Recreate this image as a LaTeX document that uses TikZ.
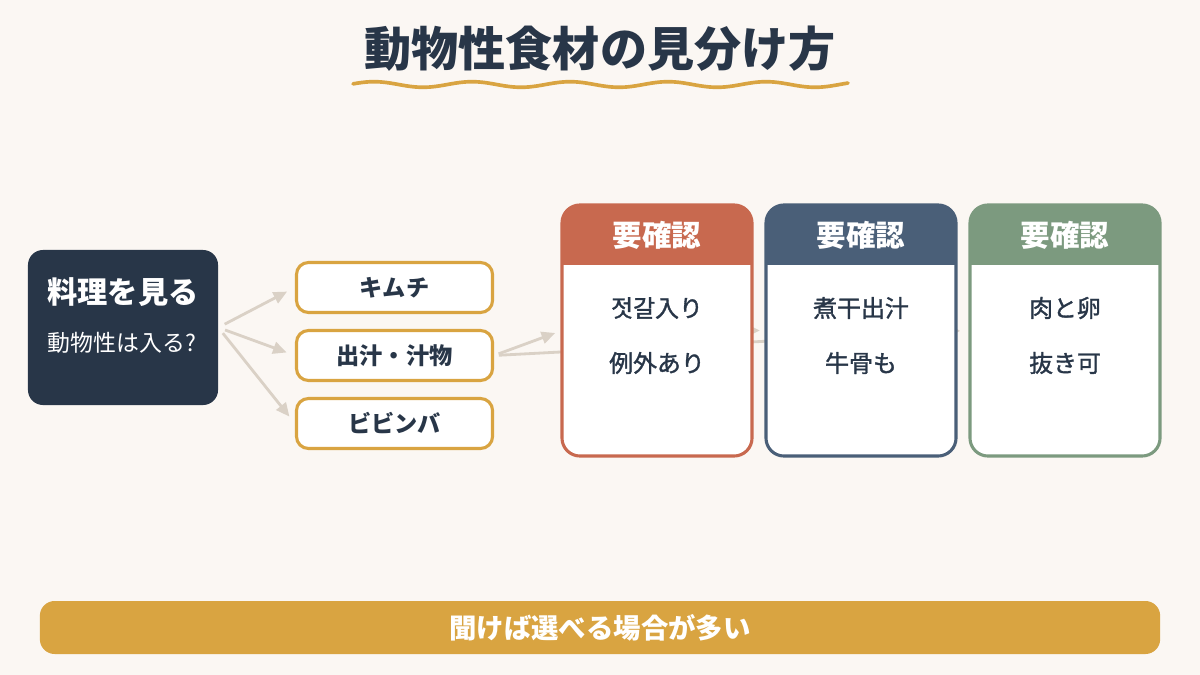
\documentclass[tikz,border=0pt]{standalone}
\usepackage{fontspec}
\setmainfont{Noto Sans CJK JP}
\newfontfamily\medfont[FakeBold=1.4]{Noto Sans CJK JP}
\usetikzlibrary{arrows.meta}

\definecolor{cream}{HTML}{FBF7F3}
\definecolor{navy}{HTML}{283648}
\definecolor{gold}{HTML}{D9A441}
\definecolor{brick}{HTML}{C8694F}
\definecolor{slate}{HTML}{4A5F78}
\definecolor{sage}{HTML}{7C9A7F}
\definecolor{arrowgray}{HTML}{DAD1C6}

\tikzset{
	arr/.style={-{Triangle[length=0.34cm,width=0.3cm]},draw=arrowgray,line width=2pt},
	pill/.style={draw=gold,fill=white,line width=2.2pt,rounded corners=0.3cm,minimum width=4.9cm,minimum height=1.25cm,text=navy,font=\fontsize{16.5}{19}\selectfont\bfseries},
	cardbox/.style={minimum width=4.75cm,minimum height=6.275cm,inner sep=0pt,outer sep=0pt},
	headtext/.style={text=white,font=\fontsize{21}{24}\selectfont\bfseries},
	bodytext/.style={text=navy,font=\fontsize{17}{20}\selectfont\medfont}
}

\begin{document}
\begin{tikzpicture}[x=0.025cm,y=-0.025cm]
		\fill[cream] (0,0) rectangle (1200,675);
		
		% title
		\node[text=navy,font=\fontsize{33.5}{38}\selectfont\bfseries] (title) at (600,49) {動物性食材の見分け方};
		\draw[gold,line width=2.6pt,line cap=round] plot[domain=353:848,samples=150] (\x,{84.5+2.8*sin((\x-423)*3.673+90)});
		
		% start box
		\node[fill=navy,rounded corners=0.375cm,minimum width=4.75cm,minimum height=3.875cm] (look) at (123,327.5) {};
		\node[text=white,font=\fontsize{21.5}{24}\selectfont\bfseries] (looktitle) at (123,292) {料理を見る};
		\node[text=white,font=\fontsize{16.3}{19}\selectfont] (lookq) at (122,343) {動物性は入る?};
		
		\node[pill] (kimchi) at (394.5,287.5) {キムチ};
		\node[pill] (soup) at (394.5,355.5) {出汁・汁物};
		\node[pill] (bibim) at (394.5,423.5) {ビビンバ};
		
		\draw[arr,shorten <=0.18cm,shorten >=0.22cm] (look.east) -- (kimchi.west);
		\draw[arr,shorten <=0.18cm,shorten >=0.22cm] (look.east) -- (soup.west);
		\draw[arr,shorten <=0.18cm,shorten >=0.22cm] (look.east) -- (bibim.west);
		
		% cards
		\foreach \i/\cx in {1/657,2/861,3/1065}
			\node[cardbox] (c\i) at (\cx,330.5) {};
		
		\draw[arr,shorten <=0.12cm,shorten >=0.18cm] (soup.east) -- (c1.west);
		\draw[arr,shorten <=0.12cm,shorten >=0.25cm] (soup.east) -- (c3.west);
		\draw[arr,shorten >=0.15cm] (c1.east) -- (c2.west);
		\draw[arr,shorten >=0.25cm] (c2.east) -- (c3.west);
		
		\foreach \i/\cx/\col/\ta/\tb in {1/657/brick/젓갈入り/例外あり,2/861/slate/煮干出汁/牛骨も,3/1065/sage/肉と卵/抜き可}{
			\fill[white,rounded corners=0.45cm] (c\i.north west) rectangle (c\i.south east);
			\begin{scope}
				\clip[rounded corners=0.45cm] (c\i.north west) rectangle (c\i.south east);
				\fill[\col] (c\i.north west) rectangle ([yshift=-1.5cm]c\i.north east);
			\end{scope}
			\draw[\col,line width=2.2pt,rounded corners=0.45cm] (c\i.north west) rectangle (c\i.south east);
			\node[headtext] (h\i) at ([yshift=-0.75cm]c\i.north) {要確認};
			\node[bodytext] (a\i) at (\cx,308) {\ta};
			\node[bodytext] (b\i) at (\cx,363) {\tb};
		}
		
		% bottom note
		\node[fill=gold,rounded corners=0.37cm,minimum width=28cm,minimum height=1.325cm,text=white,font=\fontsize{19.5}{22}\selectfont\bfseries] (note) at (600,627.5) {聞けば選べる場合が多い};
		\end{tikzpicture}
\end{document}
